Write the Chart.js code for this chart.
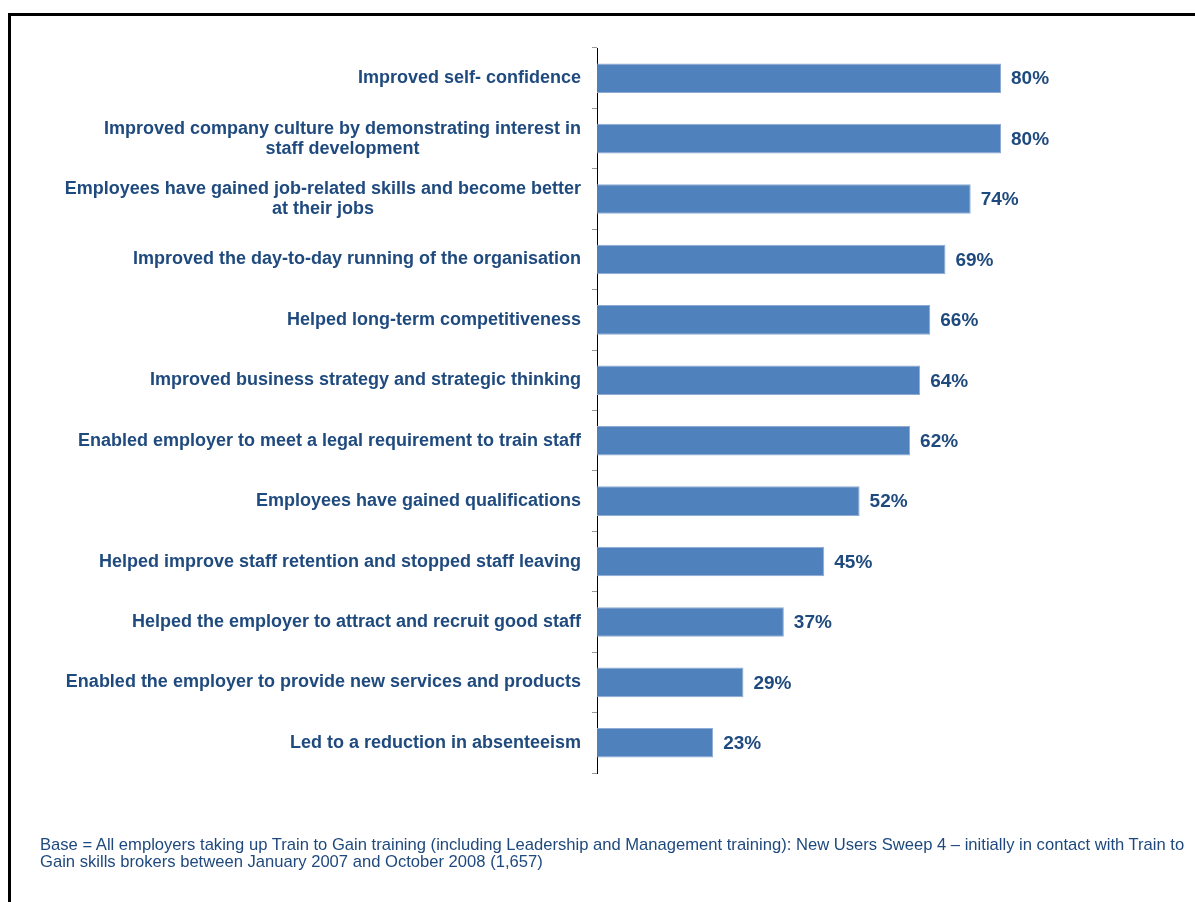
<!DOCTYPE html>
<html lang="en">
<head>
<meta charset="UTF-8">
<title>Benefits of Train to Gain training</title>
<script src="https://cdn.jsdelivr.net/npm/chart.js"></script>
<style>
  html, body { margin: 0; padding: 0; background: #fff; }
  #wrap { position: relative; width: 1195px; height: 902px; overflow: hidden; }
  #frame { position: absolute; left: 8px; top: 13px; width: 1200px; height: 900px;
           border-left: 3px solid #000; border-top: 3px solid #000; }
  #chart { position: absolute; left: 0; top: 0; }
  #note { position: absolute; left: 40px; top: 836px; width: 1160px; white-space: nowrap;
          font: 16.6px "Liberation Sans", Arial, sans-serif; line-height: 17px; color: #1F497D; }
</style>
</head>
<body>
<div id="wrap">
  <div id="frame"></div>
  <canvas id="chart" width="1195" height="902"></canvas>
  <div id="note">Base = All employers taking up Train to Gain training (including Leadership and Management training): New Users Sweep 4 – initially in contact with Train to<br>Gain skills brokers between January 2007 and October 2008 (1,657)</div>
</div>
<script>
// categories (each one split into its display lines)
var categories = [
    ['Improved self- confidence'],
    ['Improved company culture by demonstrating interest in', 'staff development'],
    ['Employees have gained job-related skills and become better', 'at their jobs'],
    ['Improved the day-to-day running of the organisation'],
    ['Helped long-term competitiveness'],
    ['Improved business strategy and strategic thinking'],
    ['Enabled employer to meet a legal requirement to train staff'],
    ['Employees have gained qualifications'],
    ['Helped improve staff retention and stopped staff leaving'],
    ['Helped the employer to attract and recruit good staff'],
    ['Enabled the employer to provide new services and products'],
    ['Led to a reduction in absenteeism']
];
var percentages = [80, 80, 74, 69, 66, 64, 62, 52, 45, 37, 29, 23];

var textColor = '#1F4A7E';

// draws the category labels (lines centred on each other, block right-aligned)
var categoryLabels = {
    id: 'categoryLabels',
    afterDraw: function (chart) {
        var ctx = chart.ctx;
        var yScale = chart.scales.y;
        var rightEdge = yScale.right - 16;
        ctx.save();
        ctx.font = 'bold 18px "Liberation Sans", Arial, sans-serif';
        ctx.fillStyle = textColor;
        ctx.textAlign = 'center';
        ctx.textBaseline = 'middle';
        categories.forEach(function (lines, i) {
            var y = yScale.getPixelForTick(i);
            var widest = 0;
            lines.forEach(function (l) { widest = Math.max(widest, ctx.measureText(l).width); });
            var cx = rightEdge - widest / 2;
            var lineH = 20;
            var start = y - (lines.length - 1) * lineH / 2;
            lines.forEach(function (l, k) { ctx.fillText(l, cx, start + k * lineH); });
        });
        ctx.restore();
    }
};

// value labels at the end of each bar
var valueLabels = {
    id: 'valueLabels',
    afterDatasetsDraw: function (chart) {
        var ctx = chart.ctx;
        var meta = chart.getDatasetMeta(0);
        ctx.save();
        ctx.font = 'bold 19px "Liberation Sans", Arial, sans-serif';
        ctx.fillStyle = textColor;
        ctx.textAlign = 'left';
        ctx.textBaseline = 'middle';
        meta.data.forEach(function (bar, i) {
            ctx.fillText(percentages[i] + '%', bar.x + 10, bar.y + 1);
        });
        ctx.restore();
    }
};

new Chart(document.getElementById('chart').getContext('2d'), {
    type: 'bar',
    data: {
        labels: categories.map(function (c) { return c.join(' '); }),
        datasets: [{
            data: percentages,
            backgroundColor: '#4F81BD',
            borderColor: '#8FAAD3',
            borderWidth: 1,
            categoryPercentage: 0.5,
            barPercentage: 0.98
        }]
    },
    options: {
        indexAxis: 'y',
        responsive: false,
        animation: false,
        layout: { padding: { left: 0, top: 48, right: 93, bottom: 129 } },
        plugins: { legend: { display: false }, tooltip: { enabled: false } },
        scales: {
            x: { display: false, min: 0, max: 100 },
            y: {
                afterFit: function (s) { s.width = 597; },
                ticks: { display: false },
                grid: { offset: true, drawOnChartArea: false, tickLength: 5, color: '#999' },
                border: { color: '#000', width: 1 }
            }
        }
    },
    plugins: [categoryLabels, valueLabels]
});
</script>
</body>
</html>
